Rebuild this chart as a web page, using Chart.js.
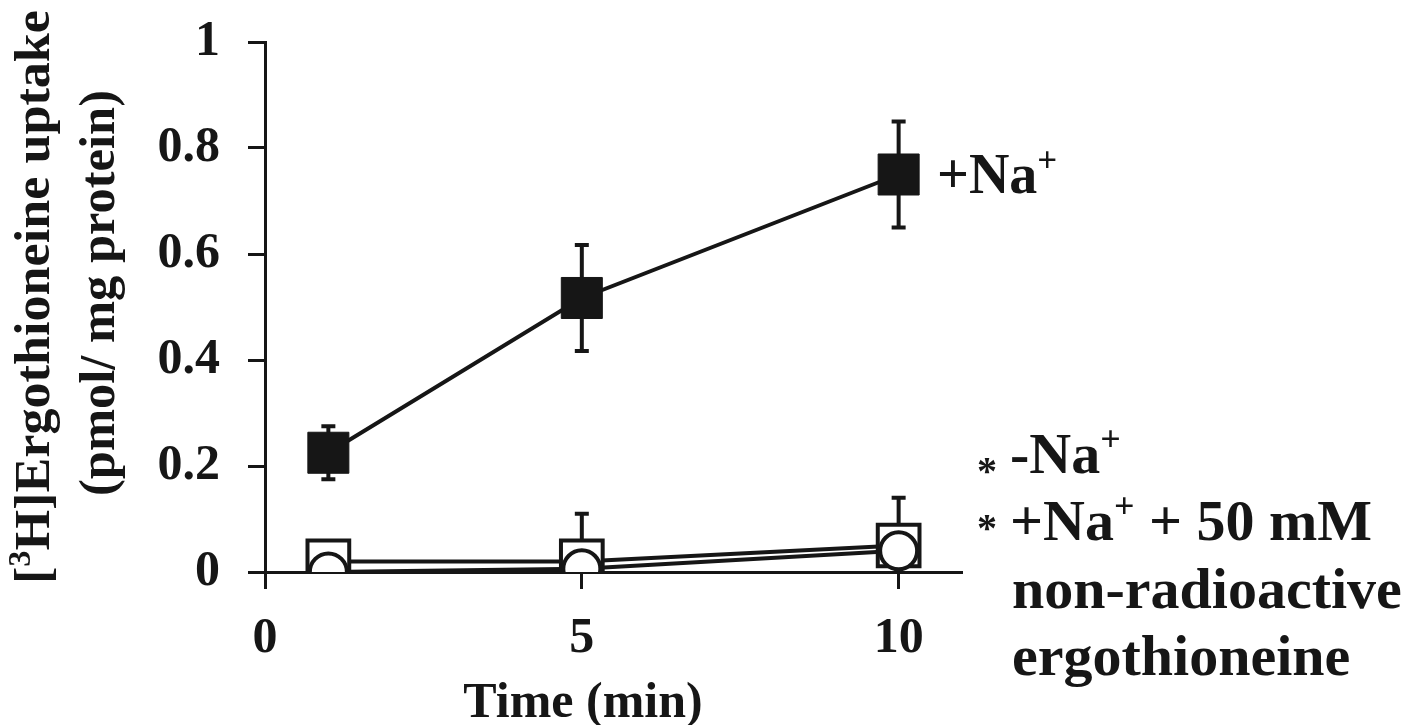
<!DOCTYPE html>
<html>
<head>
<meta charset="utf-8">
<script src="https://cdn.jsdelivr.net/npm/chart.js@4/dist/chart.umd.min.js"></script>
<style>
  html, body { margin: 0; padding: 0; background: #fff; }
  #wrap { width: 1424px; height: 725px; position: relative; }
</style>
</head>
<body>
<div id="wrap"><canvas id="c" width="1424" height="725"></canvas></div>
<script>
// ---- data ----
const timeMin = [1, 5, 10];
const uptakeNa = [0.225, 0.517, 0.750];
const errNa = [0.05, 0.10, 0.10];
const uptakeNoNa = [0.02, 0.02, 0.05];
const errNoNa = [0, 0.09, 0.09];
const uptakeNaCold = [0.0, 0.006, 0.04];
const errNaCold = [0, 0, 0];
const xTickValues = [0, 5, 10];
const yTickValues = [0, 0.2, 0.4, 0.6, 0.8, 1];

const INK = '#161616';
const SERIF = '"Liberation Serif", "Times New Roman", serif';

function pts(xs, ys) { return xs.map((x, i) => ({ x: x, y: ys[i] })); }

const errorBars = {
  id: 'errorBars',
  beforeDatasetsDraw(chart) {
    const ctx = chart.ctx;
    const ys = chart.scales.y;
    chart.data.datasets.forEach((ds, di) => {
      const meta = chart.getDatasetMeta(di);
      if (!ds.errors) return;
      ctx.save();
      ctx.strokeStyle = INK;
      ctx.lineWidth = 4;
      ds.data.forEach((p, i) => {
        const e = ds.errors[i];
        if (!e) return;
        const el = meta.data[i];
        const top = ys.getPixelForValue(p.y + e);
        const bot = ys.getPixelForValue(Math.max(0, p.y - e));
        ctx.beginPath();
        ctx.moveTo(el.x, top); ctx.lineTo(el.x, bot);
        ctx.moveTo(el.x - 7, top); ctx.lineTo(el.x + 7, top);
        if (p.y - e > 0) { ctx.moveTo(el.x - 7, bot); ctx.lineTo(el.x + 7, bot); }
        ctx.stroke();
      });
      ctx.restore();
    });
  }
};

function drawRun(ctx, parts, x, y, size) {
  let cx = x;
  parts.forEach(p => {
    const fs = p.sup ? Math.round(size * 0.62) : size;
    ctx.font = 'bold ' + fs + 'px ' + SERIF;
    const dy = p.sup ? -size * 0.38 : 0;
    ctx.fillText(p.t, cx, y + dy);
    cx += ctx.measureText(p.t).width;
  });
  return cx - x;
}
function runWidth(ctx, parts, size) {
  let w = 0;
  parts.forEach(p => {
    const fs = p.sup ? Math.round(size * 0.62) : size;
    ctx.font = 'bold ' + fs + 'px ' + SERIF;
    w += ctx.measureText(p.t).width;
  });
  return w;
}

const annotations = {
  id: 'annotations',
  afterDraw(chart) {
    const ctx = chart.ctx;
    ctx.save();
    ctx.fillStyle = INK;
    ctx.textBaseline = 'alphabetic';
    ctx.textAlign = 'left';

    const l1 = [{ t: '[' }, { t: '3', sup: true }, { t: 'H]Ergothioneine uptake' }];
    const l2 = [{ t: '(pmol/ mg protein)' }];
    [[l1, 49, 297, 574], [l2, 114, 293, 406]].forEach(([parts, bx, cy, len]) => {
      const w = runWidth(ctx, parts, 50);
      ctx.save();
      ctx.translate(bx, cy);
      ctx.rotate(-Math.PI / 2);
      ctx.scale(len / w, 1);
      drawRun(ctx, parts, -w / 2, 0, 50);
      ctx.restore();
    });

    ctx.font = 'bold 50px ' + SERIF;
    ctx.textAlign = 'center';
    ctx.fillText('Time (min)', 583, 717);
    ctx.textAlign = 'left';

    drawRun(ctx, [{ t: '+Na' }, { t: '+', sup: true }], 937, 193, 56);
    ctx.font = 'bold 40px ' + SERIF;
    ctx.fillText('*', 977, 484);
    ctx.fillText('*', 977, 541);
    drawRun(ctx, [{ t: '-Na' }, { t: '+', sup: true }], 1010, 473, 58);
    drawRun(ctx, [{ t: '+Na' }, { t: '+', sup: true }, { t: ' + 50 mM' }], 1010, 540, 58);
    drawRun(ctx, [{ t: 'non-radioactive' }], 1012, 608, 58);
    drawRun(ctx, [{ t: 'ergothioneine' }], 1012, 675, 58);
    ctx.restore();
  }
};

const tickFont = { family: SERIF, size: 50, weight: 'bold' };

new Chart(document.getElementById('c'), {
  type: 'line',
  data: {
    datasets: [
      {
        label: '+Na+',
        data: pts(timeMin, uptakeNa),
        errors: errNa,
        borderColor: INK, backgroundColor: INK,
        borderWidth: 4,
        pointStyle: 'rect', pointRadius: 29,
        pointBackgroundColor: INK, pointBorderColor: INK, pointBorderWidth: 1
      },
      {
        label: '+Na+ + 50 mM non-radioactive ergothioneine',
        data: pts(timeMin, uptakeNaCold),
        errors: errNaCold,
        borderColor: INK, backgroundColor: '#fff',
        borderWidth: 4,
        pointStyle: 'circle', pointRadius: 18.5,
        pointBackgroundColor: '#fff', pointBorderColor: INK, pointBorderWidth: 4
      },
      {
        label: '-Na+',
        data: pts(timeMin, uptakeNoNa),
        errors: errNoNa,
        borderColor: INK, backgroundColor: '#fff',
        borderWidth: 4,
        pointStyle: 'rect', pointRadius: 29.5,
        pointBackgroundColor: '#fff', pointBorderColor: INK, pointBorderWidth: 4
      }
    ]
  },
  options: {
    responsive: false,
    animation: false,
    devicePixelRatio: 1,
    layout: { padding: { left: 0, top: 42, right: 462, bottom: 0 } },
    plugins: { legend: { display: false }, tooltip: { enabled: false } },
    scales: {
      x: {
        type: 'linear', min: 0, max: 11,
        afterFit(s) { s.height = 153; s.paddingLeft = 0; s.paddingRight = 0; },
        afterBuildTicks(s) { s.ticks = xTickValues.map(v => ({ value: v })); },
        grid: { drawOnChartArea: false, drawTicks: true, tickLength: 17, tickWidth: 3, color: INK },
        border: { display: true, color: INK, width: 3 },
        ticks: { font: tickFont, color: INK, padding: 20, maxRotation: 0, callback: v => String(v) }
      },
      y: {
        type: 'linear', min: 0, max: 1,
        afterFit(s) { s.width = 265; s.paddingTop = 0; s.paddingBottom = 0; },
        afterBuildTicks(s) { s.ticks = yTickValues.map(v => ({ value: v })); },
        grid: { drawOnChartArea: false, drawTicks: true, tickLength: 17, tickWidth: 3, color: INK },
        border: { display: true, color: INK, width: 3 },
        ticks: { font: tickFont, color: INK, padding: 28, callback: v => String(v) }
      }
    }
  },
  plugins: [errorBars, annotations]
});
</script>
</body>
</html>
